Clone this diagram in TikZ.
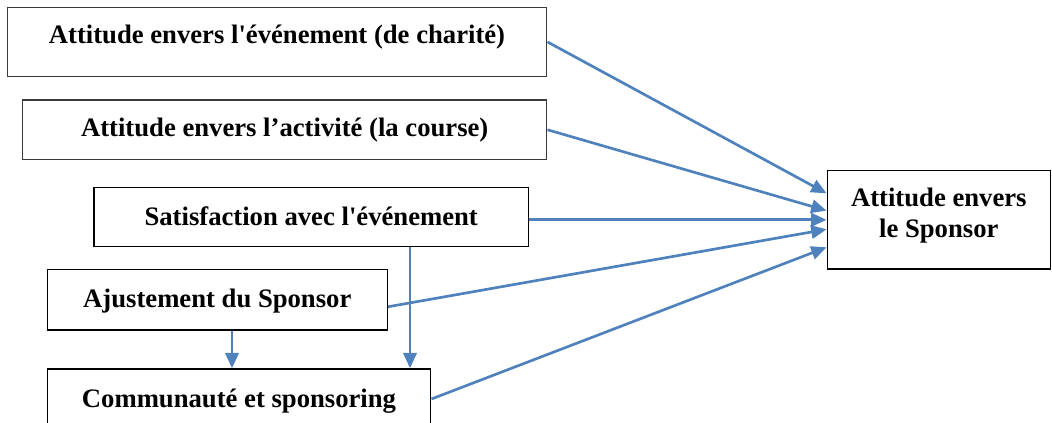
\documentclass[tikz,border=0pt]{standalone}
\usepackage{fontspec}
\setmainfont{Liberation Serif}
\usetikzlibrary{arrows.meta,calc}
\definecolor{linkblue}{HTML}{4F81BD}
\definecolor{darkframe}{HTML}{3A3A3A}
\begin{document}
\begin{tikzpicture}[x=0.75pt,y=-0.75pt,
  box/.style={draw=black, line width=1.15pt, inner xsep=0pt, inner ysep=0pt,
    anchor=base, font=\fontsize{20}{23.25}\selectfont\bfseries},
  link/.style={draw=linkblue, line width=2pt,
    -{Triangle[length=11.5pt,width=10pt]}}]
\useasboundingbox (0,0) rectangle (1052,423);

% source factors
\node[box, draw=darkframe, minimum width=404.55pt, text height=27.5pt, text depth=24.4pt]
  (ev) at (277,44) {Attitude envers l\textquotesingle événement (de charité)};
\node[box, draw=darkframe, minimum width=393pt, text height=27.75pt, text depth=16.9pt]
  (act) at (284.7,137) {Attitude envers l’activité (la course)};
\node[box, minimum width=325.7pt, text height=28.65pt, text depth=15.9pt]
  (sat) at (311.2,225.5) {Satisfaction avec l\textquotesingle événement};
\node[box, minimum width=255pt, text height=28.5pt, text depth=16.9pt]
  (aj) at (217.3,307.5) {Ajustement du Sponsor};
\node[box, minimum width=287.55pt, text height=28.5pt, text depth=16.5pt]
  (com) at (239,407) {Communauté et sponsoring};

% outcome
\node[box, minimum width=167.25pt, text height=27.25pt, text depth=46.5pt]
  (sp) at (938.8,207) {\begin{tabular}[t]{@{}c@{}}Attitude envers\\le Sponsor\end{tabular}};

% paths towards the sponsor attitude
\draw[link] (ev.east) -- ($(sp.west)+(0,-26.5)$);
\draw[link] (act.east) -- ($(sp.west)+(0,-9.2)$);
\draw[link] (sat.east |- sp.west) -- (sp.west);
\draw[link] ($(aj.east)+(0,7)$) -- ($(sp.west)+(0,9.5)$);
\draw[link] (com.east) -- ($(sp.west)+(0,27.5)$);

% paths into community
\coordinate (ajb) at ($(aj.south)+(14.7,0)$);
\coordinate (satb) at ($(sat.south)+(98.8,0)$);
\draw[link] (ajb) -- (ajb |- com.north);
\draw[link] (satb) -- (satb |- com.north);
\end{tikzpicture}
\end{document}
